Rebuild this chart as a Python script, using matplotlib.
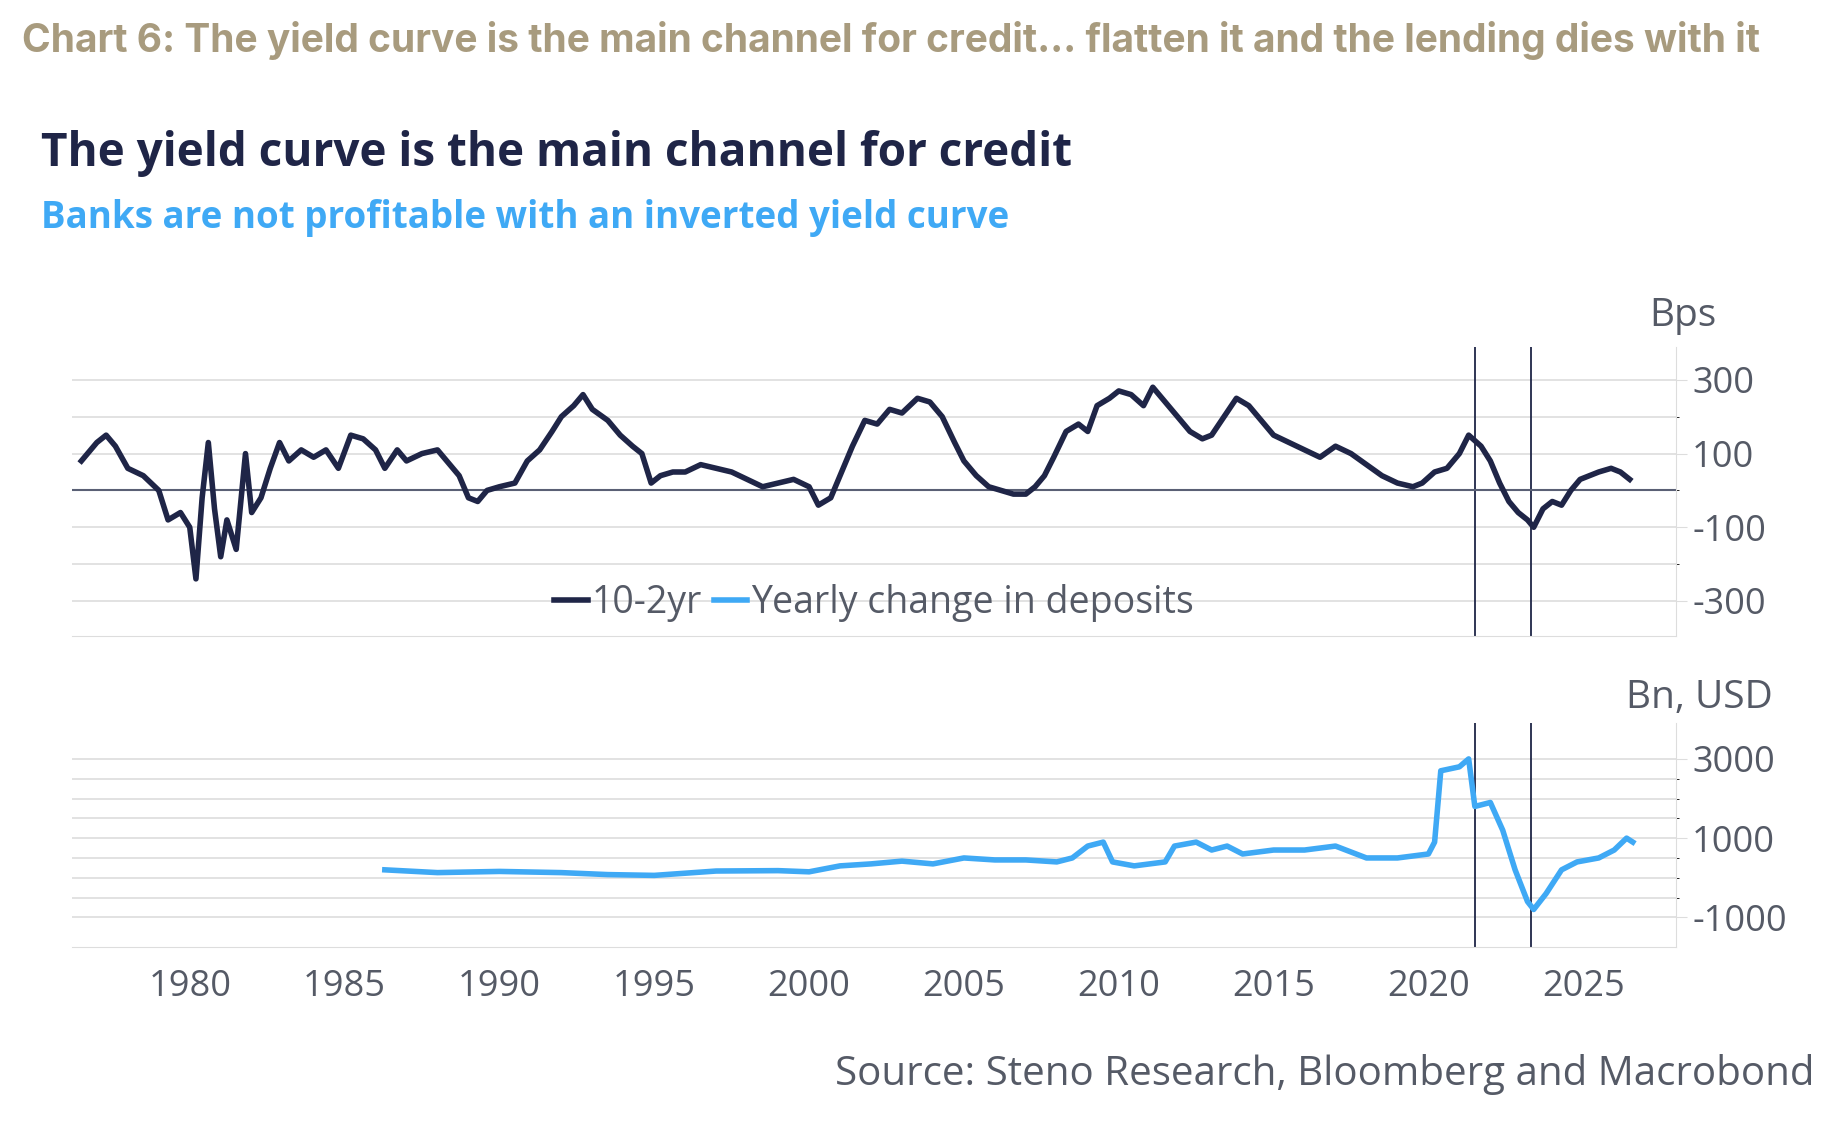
import matplotlib.pyplot as plt
import numpy as np

yc_t = [1976.5,1977,1977.3,1977.6,1978,1978.5,1979,1979.3,1979.7,1980,1980.2,1980.4,1980.6,1980.8,1981,1981.2,1981.5,1981.8,1982,1982.3,1982.6,1982.9,1983.2,1983.6,1984,1984.4,1984.8,1985.2,1985.6,1986,1986.3,1986.7,1987,1987.5,1988,1988.3,1988.7,1989,1989.3,1989.6,1990,1990.5,1990.9,1991.3,1991.7,1992,1992.4,1992.7,1993,1993.5,1993.9,1994.3,1994.6,1994.9,1995.2,1995.6,1996,1996.5,1997,1997.5,1998,1998.5,1999,1999.5,2000,2000.3,2000.7,2001,2001.4,2001.8,2002.2,2002.6,2003,2003.5,2003.9,2004.3,2004.7,2005,2005.4,2005.8,2006.2,2006.6,2007,2007.3,2007.6,2007.9,2008.3,2008.7,2009,2009.3,2009.7,2010,2010.4,2010.8,2011.1,2011.5,2011.9,2012.3,2012.7,2013,2013.4,2013.8,2014.2,2014.6,2015,2015.5,2016,2016.5,2017,2017.5,2018,2018.5,2019,2019.5,2019.8,2020.2,2020.6,2021,2021.3,2021.7,2022,2022.3,2022.6,2022.9,2023.2,2023.4,2023.7,2024,2024.3,2024.6,2024.9,2025.2,2025.5,2025.9,2026.2,2026.5]
yc_v = [80,130,150,120,60,40,0,-80,-60,-100,-240,-20,130,-50,-180,-80,-160,100,-60,-20,60,130,80,110,90,110,60,150,140,110,60,110,80,100,110,80,40,-20,-30,0,10,20,80,110,160,200,230,260,220,190,150,120,100,20,40,50,50,70,60,50,30,10,20,30,10,-40,-20,40,120,190,180,220,210,250,240,200,130,80,40,10,0,-10,-10,10,40,90,160,180,160,230,250,270,260,230,280,240,200,160,140,150,200,250,230,190,150,130,110,90,120,100,70,40,20,10,20,50,60,100,150,120,80,20,-30,-60,-80,-100,-50,-30,-40,0,30,40,50,60,50,30]
dep_t = [1986.3,1988,1990,1992,1993.5,1995,1997,1999,2000,2001,2002,2003,2004,2005,2006,2007,2008,2008.5,2009,2009.5,2009.8,2010.5,2011.5,2011.8,2012.5,2013,2013.5,2014,2015,2016,2017,2018,2019,2020,2020.2,2020.4,2021,2021.3,2021.5,2022,2022.4,2022.8,2023.2,2023.4,2023.8,2024.3,2024.8,2025.5,2026,2026.4,2026.6]
dep_v = [200,130,160,130,80,60,170,180,150,300,350,420,350,500,450,450,400,500,800,900,400,300,400,800,900,700,800,600,700,700,800,500,500,600,900,2700,2800,3000,1800,1900,1200,200,-600,-800,-400,200,400,500,700,1000,900]
xticks = [1980,1985,1990,1995,2000,2005,2010,2015,2020,2025]
vlines = [2021.5,2023.3]

plt.rcParams['font.family'] = ['Open Sans', 'DejaVu Sans']
navy = '#1f2547'; blue = '#3fa9f5'; grey = '#555a66'; gc = '#dddddd'
fig = plt.figure(figsize=(18.48,11.48), dpi=100)
fig.text(0.012,0.965,'Chart 6: The yield curve is the main channel for credit… flatten it and the lending dies with it',
         fontsize=28, fontweight='bold', color='#a89b7e', va='center', family=['Inter','DejaVu Sans'])
fig.text(0.022,0.866,'The yield curve is the main channel for credit', fontsize=33, fontweight='bold', color=navy, va='center')
fig.text(0.022,0.81,'Banks are not profitable with an inverted yield curve', fontsize=26.5, fontweight='bold', color=blue, va='center')

L, W = 0.039, 0.868
ax1 = fig.add_axes([L, 0.446, W, 0.252])
ax2 = fig.add_axes([L, 0.175, W, 0.195])
for ax in (ax1, ax2):
    ax.set_xlim(1976.2, 2028)
    for s in ['top','left']: ax.spines[s].set_visible(False)
    ax.spines['right'].set_color(gc); ax.spines['bottom'].set_color(gc)
    ax.yaxis.tick_right()
    ax.tick_params(axis='y', colors=gc, labelcolor=grey, labelsize=26, length=8)
    ax.tick_params(axis='x', colors=gc, labelcolor=grey, labelsize=26, length=0)
    for v in vlines: ax.axvline(v, color=navy, lw=1.3)
ax1.set_ylim(-395, 390)
ax1.set_yticks(np.arange(-300,301,100), minor=True)
ax1.set_yticks([-300,-100,100,300]); ax1.set_yticklabels(['-300','-100','100','300'])
ax1.grid(axis='y', which='both', color=gc, lw=1.2)
ax1.axhline(0, color='#5a6075', lw=1.5)
ax1.plot(yc_t, yc_v, color=navy, lw=4, label='10-2yr')
ax1.plot([], [], color=blue, lw=4, label='Yearly change in deposits')
ax1.set_xticks([])
ax1.legend(loc='lower center', bbox_to_anchor=(0.5,-0.07), ncol=2, frameon=False, fontsize=27,
           handlelength=0.9, handletextpad=0.1, columnspacing=0.3, labelcolor=grey)
ax1.text(1.025, 1.07, 'Bps', transform=ax1.transAxes, fontsize=28, color=grey, ha='right')

ax2.set_ylim(-1750, 3900)
ax2.set_yticks(np.arange(-1000,3001,500), minor=True)
ax2.set_yticks([-1000,1000,3000]); ax2.set_yticklabels(['-1000','1000','3000'])
ax2.grid(axis='y', which='both', color=gc, lw=1.2)
ax2.plot(dep_t, dep_v, color=blue, lw=4)
ax2.set_xticks(xticks)
ax2.tick_params(axis='x', pad=16)
ax2.text(1.06, 1.07, 'Bn, USD', transform=ax2.transAxes, fontsize=28, color=grey, ha='right')
fig.text(0.982, 0.055, 'Source: Steno Research, Bloomberg and Macrobond', fontsize=29, color=grey, ha='right')
fig.savefig('out.png')
